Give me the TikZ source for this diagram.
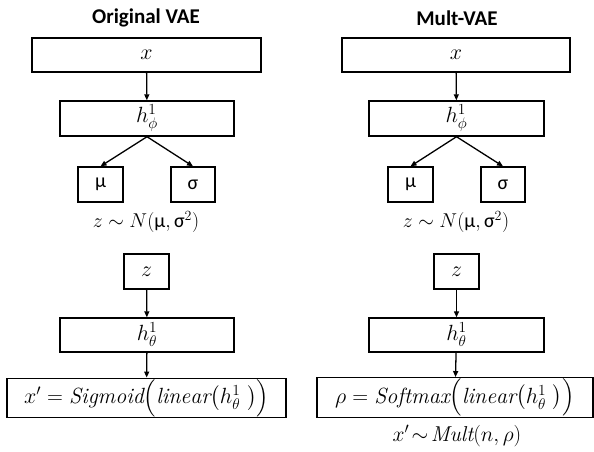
\RequirePackage{fix-cm}
\documentclass[tikz,border=0pt]{standalone}
\usepackage{fontspec}
\usepackage{amsmath}
\usetikzlibrary{arrows.meta}
\newfontfamily\headfont{Carlito}
\newfontfamily\grk{Carlito}
\begin{document}
\begin{tikzpicture}[x=1pt,y=-1pt,
  blk/.style={draw,line width=1.4pt,inner sep=0pt,font=\fontsize{22}{26}\selectfont},
  grkbox/.style={blk,font=\grk\fontsize{20}{24}\selectfont},
  head/.style={font=\headfont\bfseries\fontsize{21}{25}\selectfont},
  lbl/.style={font=\fontsize{20}{24}\selectfont},
  arr/.style={line width=1.3pt,-{Triangle[length=6pt,width=5pt]}}]
\useasboundingbox (0,0) rectangle (594,451);

% ---- left column: original VAE ----
\node[head] (tl) at (146,18) {Original VAE};
\node[blk,minimum width=229pt,minimum height=34pt] (xl) at (146.5,55) {$x$};
\node[blk,minimum width=174pt,minimum height=35pt] (hpl) at (147,118.5) {$h_{\phi}^{1}$};
\node[grkbox,minimum width=45pt,minimum height=35pt] (mul) at (100.5,184.5) {μ};
\node[grkbox,minimum width=44pt,minimum height=35pt] (sgl) at (193,184.5) {σ};
\node[lbl] (nl) at (146,222) {$z\sim N(\text{\grk μ},\text{\grk σ}^{2})$};
\node[blk,minimum width=45pt,minimum height=35pt] (zl) at (146.5,271.5) {$z$};
\node[blk,minimum width=174pt,minimum height=34pt] (htl) at (147,335) {$h_{\theta}^{1}$};
\node[blk,minimum width=279pt,minimum height=36pt] (ol) at (146.5,398)
  {$x' = \mathit{Sigmoid}\Big(\mathit{linear}\big(h_{\theta}^{1}\ \big)\Big)$};

\draw[arr] (xl) -- (hpl);
\draw[arr] (hpl.south) -- (mul.north);
\draw[arr] (hpl.south) -- (sgl.north);
\draw[arr] (zl) -- (htl);
\draw[arr] (htl) -- (ol);

% ---- right column: Mult-VAE ----
\node[head] (tr) at (457,18) {Mult-VAE};
\node[blk,minimum width=228pt,minimum height=34pt] (xr) at (456,55) {$x$};
\node[blk,minimum width=175pt,minimum height=35pt] (hpr) at (456.5,118.5) {$h_{\phi}^{1}$};
\node[grkbox,minimum width=45pt,minimum height=35pt] (mur) at (410.5,184.5) {μ};
\node[grkbox,minimum width=44pt,minimum height=35pt] (sgr) at (503,184.5) {σ};
\node[lbl] (nr) at (456,222) {$z\sim N(\text{\grk μ},\text{\grk σ}^{2})$};
\node[blk,minimum width=45pt,minimum height=35pt] (zr) at (456.5,271.5) {$z$};
\node[blk,minimum width=175pt,minimum height=34pt] (htr) at (456.5,335) {$h_{\theta}^{1}$};
\node[blk,minimum width=276pt,minimum height=35pt] (orr) at (455,397.5)
  {$\rho = \mathit{Softmax}\Big(\mathit{linear}\big(h_{\theta}^{1}\ \big)\Big)$};
\node[lbl,font=\fontsize{21.5}{25}\selectfont] (mr) at (457,436) {$x'\!\sim\!\mathit{Mult}(n,\rho)$};

\draw[arr] (xr) -- (hpr);
\draw[arr] (hpr.south) -- (mur.north);
\draw[arr] (hpr.south) -- (sgr.north);
\draw[arr] (zr) -- (htr);
\draw[arr] (htr) -- (orr);
\end{tikzpicture}
\end{document}
